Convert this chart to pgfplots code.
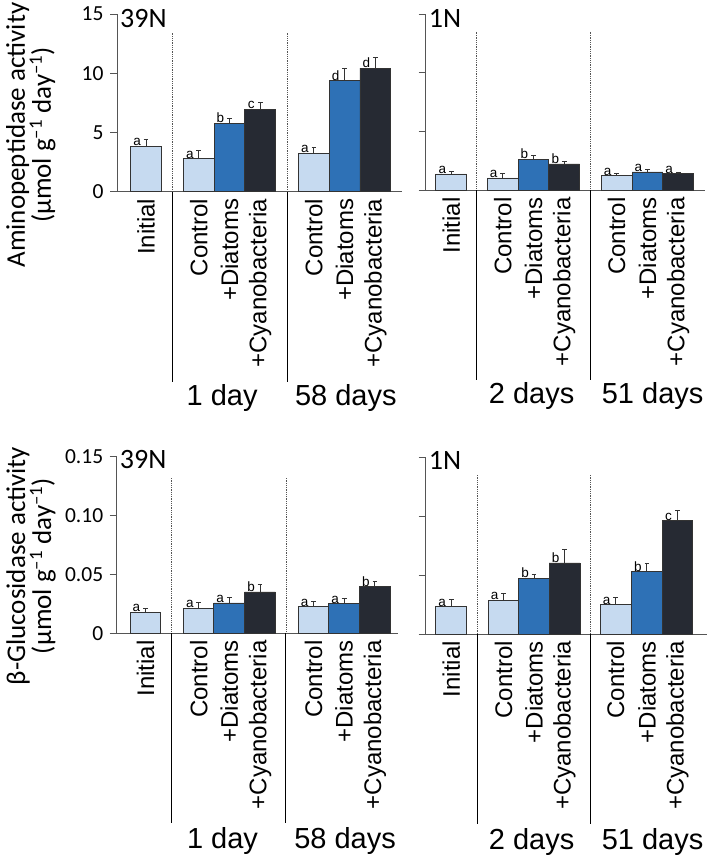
\documentclass[border=0pt]{standalone}
\usepackage{fontspec}
\setmainfont{Liberation Sans}
\newfontfamily\carl{Carlito}
\usepackage{pgfplots}
\pgfplotsset{compat=1.18}
\definecolor{cL}{RGB}{198,218,240}
\definecolor{cM}{RGB}{46,113,182}
\definecolor{cD}{RGB}{38,42,51}
\definecolor{axg}{RGB}{85,85,85}
\pgfplotsset{
  panel/.style={
    scale only axis, anchor=south west, clip=false,
    axis lines*=left,
    axis line style={axg, line width=1pt},
    ymin=0,
    scaled y ticks=false, scaled x ticks=false,
    tick align=outside, major tick length=7pt,
    ytick style={axg, line width=1pt},
    xtick style={draw=none},
    x tick label style={rotate=90, anchor=east, inner sep=0pt, font=\fontsize{24}{24}\selectfont},
    y tick label style={font=\carl\fontsize{21.5}{22}\selectfont, xshift=-3pt},
    /pgf/number format/assume math mode=true,
    xticklabels={Initial,Control,+Diatoms,+Cyanobacteria,Control,+Diatoms,+Cyanobacteria},
  },
  bars/.style={ybar, bar width=1, bar shift=0pt, fill=#1, draw=black!80, line width=0.8pt,
    nodes near coords, point meta=explicit symbolic,
    every node near coord/.append style={font=\fontsize{13.5}{13.5}\selectfont, text=black, anchor=south, xshift=-9pt, yshift=-1pt, inner sep=1pt},
    error bars/.cd, y dir=plus, y explicit,
    error bar style={black!80, line width=1pt},
    error mark options={rotate=90, black!80, line width=1pt, mark size=2.4pt}},
}
\tikzset{
  sepdot/.style={axg, densely dotted, line width=0.8pt},
  sepsolid/.style={black, line width=1pt},
  daylab/.style={font=\fontsize{29}{29}\selectfont},
  ptitle/.style={anchor=base west, inner sep=0pt, font=\carl\fontsize{28}{28}\selectfont},
  ylab/.style={rotate=90, align=center, font=\carl\fontsize{27}{26}\selectfont},
}
\begin{document}
\begin{tikzpicture}
\useasboundingbox (0,0) rectangle (709pt,-861pt);

% ---------------- top-left: 39N aminopeptidase
\begin{axis}[panel, at={(117pt,-191.7pt)}, width=285pt, height=177.7pt,
  xmin=-0.945, xmax=8.34, ymax=15, ytick={0,5,10,15},
  xtick={0,1.72,2.72,3.72,5.47,6.47,7.47}]
\addplot[bars=cL] table[x=x,y=y,y error=e,meta=l]{
x y e l
0 3.83 0.60 a
1.72 2.79 0.68 a
5.47 3.24 0.47 a
};
\addplot[bars=cM] table[x=x,y=y,y error=e,meta=l]{
x y e l
2.72 5.77 0.42 b
6.47 9.37 1.01 d
};
\addplot[bars=cD] table[x=x,y=y,y error=e,meta=l]{
x y e l
3.72 6.98 0.56 c
7.47 10.44 0.88 d
};
\draw[sepdot] (axis cs:0.86,0) -- (axis cs:0.86,13.4);
\draw[sepdot] (axis cs:4.595,0) -- (axis cs:4.595,13.4);
\draw[sepsolid] (axis cs:0.86,0) -- ++(0pt,-190pt);
\draw[sepsolid] (axis cs:4.595,0) -- ++(0pt,-190pt);
\node[daylab] at ([yshift=-206pt]axis cs:2.48,0) {1 day};
\node[daylab] at ([yshift=-206pt]axis cs:6.51,0) {58 days};
\node[ptitle] at ([xshift=3pt,yshift=-13pt]rel axis cs:0,1) {39N};
\node[ylab] at (axis description cs:-0.302,0.319) {Aminopeptidase activity\\(µmol g\textsuperscript{–1} day\textsuperscript{–1})};
\end{axis}

% ---------------- top-right: 1N aminopeptidase
\begin{axis}[panel, at={(425.7pt,-190.3pt)}, width=279.3pt, height=176.3pt,
  xmin=-0.83, xmax=8.24, ymax=15, ytick={0,5,10,15}, yticklabels={},
  xtick={0,1.67,2.67,3.67,5.37,6.37,7.37}]
\addplot[bars=cL] table[x=x,y=y,y error=e,meta=l]{
x y e l
0 1.39 0.20 a
1.67 1.05 0.37 a
5.37 1.24 0.20 a
};
\addplot[bars=cM] table[x=x,y=y,y error=e,meta=l]{
x y e l
2.67 2.64 0.28 b
6.37 1.56 0.17 a
};
\addplot[bars=cD] table[x=x,y=y,y error=e,meta=l]{
x y e l
3.67 2.24 0.23 b
7.37 1.41 0.14 a
};
\draw[sepdot] (axis cs:0.82,0) -- (axis cs:0.82,13.5);
\draw[sepdot] (axis cs:4.53,0) -- (axis cs:4.53,13.5);
\draw[sepsolid] (axis cs:0.82,0) -- ++(0pt,-190pt);
\draw[sepsolid] (axis cs:4.53,0) -- ++(0pt,-190pt);
\node[daylab] at ([yshift=-206pt]axis cs:2.61,0) {2 days};
\node[daylab] at ([yshift=-206pt]axis cs:6.54,0) {51 days};
\node[ptitle] at ([xshift=3pt,yshift=-13pt]rel axis cs:0,1) {1N};
\end{axis}

% ---------------- bottom-left: 39N beta-glucosidase
\begin{axis}[panel, at={(116.7pt,-633.3pt)}, width=281pt, height=176.6pt,
  xmin=-0.935, xmax=8.19, ymax=0.15, ytick={0,0.05,0.10,0.15},
  yticklabels={0,0.05,0.10,0.15},
  xtick={0,1.73,2.72,3.72,5.46,6.45,7.45}]
\addplot[bars=cL] table[x=x,y=y,y error=e,meta=l]{
x y e l
0 0.0178 0.0034 a
1.73 0.0212 0.0048 a
5.46 0.0226 0.0048 a
};
\addplot[bars=cM] table[x=x,y=y,y error=e,meta=l]{
x y e l
2.72 0.0258 0.0042 a
6.45 0.0252 0.0040 a
};
\addplot[bars=cD] table[x=x,y=y,y error=e,meta=l]{
x y e l
3.72 0.0351 0.0065 b
7.45 0.0396 0.0045 b
};
\draw[sepdot] (axis cs:0.85,0) -- (axis cs:0.85,0.1325);
\draw[sepdot] (axis cs:4.56,0) -- (axis cs:4.56,0.1325);
\draw[sepsolid] (axis cs:0.85,0) -- ++(0pt,-190pt);
\draw[sepsolid] (axis cs:4.56,0) -- ++(0pt,-190pt);
\node[daylab] at ([yshift=-208pt]axis cs:2.5,0) {1 day};
\node[daylab] at ([yshift=-208pt]axis cs:6.48,0) {58 days};
\node[ptitle] at ([xshift=3pt,yshift=-12pt]rel axis cs:0,1) {39N};
\node[ylab] at (axis description cs:-0.305,0.381) {β-Glucosidase activity\\(µmol g\textsuperscript{–1} day\textsuperscript{–1})};
\end{axis}

% ---------------- bottom-right: 1N beta-glucosidase
\begin{axis}[panel, at={(425.7pt,-634pt)}, width=281pt, height=176.7pt,
  xmin=-0.83, xmax=8.3, ymax=0.15, ytick={0,0.05,0.10,0.15}, yticklabels={},
  xtick={0,1.70,2.69,3.68,5.34,6.36,7.35}]
\addplot[bars=cL] table[x=x,y=y,y error=e,meta=l]{
x y e l
0 0.0232 0.0062 a
1.70 0.0286 0.0056 a
5.34 0.0249 0.0060 a
};
\addplot[bars=cM] table[x=x,y=y,y error=e,meta=l]{
x y e l
2.69 0.0473 0.0034 b
6.36 0.0529 0.0068 b
};
\addplot[bars=cD] table[x=x,y=y,y error=e,meta=l]{
x y e l
3.68 0.0603 0.0116 b
7.35 0.0962 0.0088 c
};
\draw[sepdot] (axis cs:0.85,0) -- (axis cs:0.85,0.135);
\draw[sepdot] (axis cs:4.52,0) -- (axis cs:4.52,0.135);
\draw[sepsolid] (axis cs:0.85,0) -- ++(0pt,-190pt);
\draw[sepsolid] (axis cs:4.52,0) -- ++(0pt,-190pt);
\node[daylab] at ([yshift=-208pt]axis cs:2.61,0) {2 days};
\node[daylab] at ([yshift=-208pt]axis cs:6.54,0) {51 days};
\node[ptitle] at ([xshift=3pt,yshift=-12pt]rel axis cs:0,1) {1N};
\end{axis}
\end{tikzpicture}
\end{document}
